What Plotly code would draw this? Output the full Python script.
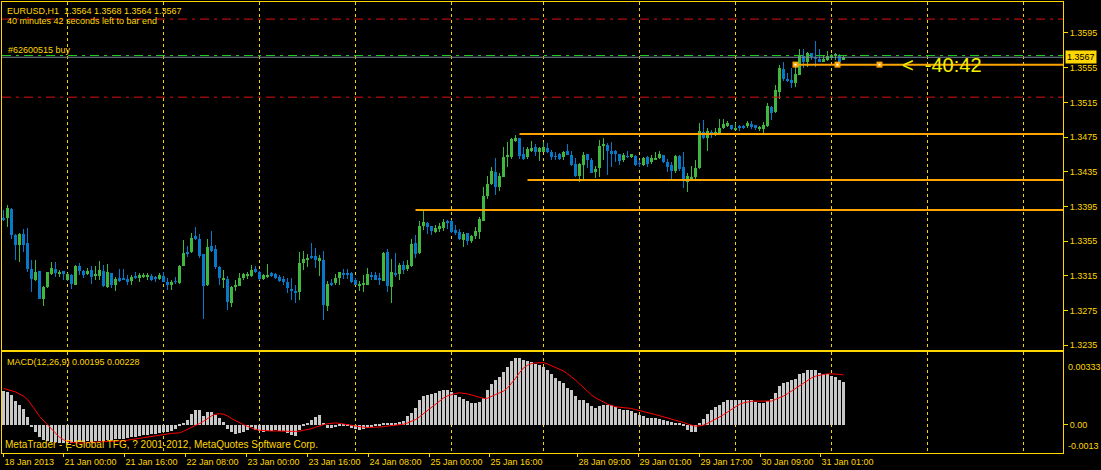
import plotly.graph_objects as go

# EURUSD H1 candles, oldest first
opens = [1.3381, 1.3382, 1.3392, 1.3362, 1.3351, 1.3363, 1.3353, 1.3323, 1.3310, 1.3321,
         1.3288, 1.3302, 1.3317, 1.3323, 1.3318, 1.3321, 1.3310, 1.3316, 1.3305, 1.3326,
         1.3321, 1.3317, 1.3322, 1.3315, 1.3315, 1.3321, 1.3302, 1.3318, 1.3305, 1.3312,
         1.3313, 1.3311, 1.3309, 1.3315, 1.3312, 1.3314, 1.3314, 1.3315, 1.3313, 1.3311,
         1.3315, 1.3308, 1.3304, 1.3309, 1.3307, 1.3326, 1.3342, 1.3343, 1.3361, 1.3358,
         1.3340, 1.3304, 1.3349, 1.3346, 1.3325, 1.3310, 1.3311, 1.3284, 1.3303, 1.3303,
         1.3313, 1.3315, 1.3315, 1.3323, 1.3319, 1.3311, 1.3314, 1.3318, 1.3317, 1.3314,
         1.3311, 1.3308, 1.3300, 1.3297, 1.3296, 1.3330, 1.3333, 1.3337, 1.3338, 1.3333,
         1.3333, 1.3280, 1.3307, 1.3307, 1.3313, 1.3318, 1.3318, 1.3318, 1.3310, 1.3304,
         1.3304, 1.3305, 1.3316, 1.3316, 1.3313, 1.3309, 1.3342, 1.3302, 1.3318, 1.3317,
         1.3327, 1.3323, 1.3326, 1.3353, 1.3341, 1.3373, 1.3376, 1.3373, 1.3366, 1.3370,
         1.3370, 1.3378, 1.3378, 1.3368, 1.3365, 1.3356, 1.3364, 1.3355, 1.3361, 1.3365,
         1.3378, 1.3407, 1.3421, 1.3435, 1.3418, 1.3429, 1.3452, 1.3452, 1.3471, 1.3474,
         1.3456, 1.3452, 1.3459, 1.3463, 1.3458, 1.3458, 1.3462, 1.3458, 1.3453, 1.3455,
         1.3452, 1.3459, 1.3454, 1.3444, 1.3430, 1.3443, 1.3456, 1.3449, 1.3435, 1.3439,
         1.3465, 1.3466, 1.3459, 1.3459, 1.3456, 1.3448, 1.3453, 1.3453, 1.3453, 1.3445,
         1.3443, 1.3452, 1.3446, 1.3449, 1.3451, 1.3454, 1.3446, 1.3443, 1.3436, 1.3453,
         1.3441, 1.3423, 1.3426, 1.3429, 1.3439, 1.3481, 1.3474, 1.3481, 1.3479, 1.3480,
         1.3485, 1.3488, 1.3489, 1.3483, 1.3488, 1.3488, 1.3488, 1.3490, 1.3489, 1.3484,
         1.3484, 1.3488, 1.3510, 1.3504, 1.3527, 1.3554, 1.3542, 1.3541, 1.3537, 1.3547,
         1.3569, 1.3562, 1.3572, 1.3566, 1.3565, 1.3562, 1.3564, 1.3567, 1.3569, 1.3570,
         1.3564]
highs = [1.3391, 1.3397, 1.3393, 1.3363, 1.3364, 1.3369, 1.3370, 1.3333, 1.3333, 1.3321,
         1.3303, 1.3320, 1.3331, 1.3331, 1.3322, 1.3321, 1.3318, 1.3317, 1.3327, 1.3330,
         1.3322, 1.3324, 1.3326, 1.3326, 1.3332, 1.3328, 1.3329, 1.3318, 1.3314, 1.3323,
         1.3323, 1.3316, 1.3316, 1.3319, 1.3318, 1.3318, 1.3318, 1.3317, 1.3315, 1.3318,
         1.3319, 1.3312, 1.3310, 1.3314, 1.3328, 1.3356, 1.3349, 1.3364, 1.3371, 1.3363,
         1.3340, 1.3358, 1.3367, 1.3351, 1.3326, 1.3322, 1.3315, 1.3303, 1.3310, 1.3318,
         1.3318, 1.3319, 1.3327, 1.3326, 1.3321, 1.3317, 1.3329, 1.3320, 1.3318, 1.3316,
         1.3315, 1.3312, 1.3312, 1.3305, 1.3343, 1.3344, 1.3340, 1.3353, 1.3347, 1.3339,
         1.3344, 1.3309, 1.3311, 1.3317, 1.3319, 1.3323, 1.3323, 1.3319, 1.3313, 1.3309,
         1.3316, 1.3324, 1.3320, 1.3320, 1.3318, 1.3342, 1.3346, 1.3334, 1.3341, 1.3330,
         1.3332, 1.3333, 1.3357, 1.3362, 1.3378, 1.3392, 1.3377, 1.3373, 1.3374, 1.3376,
         1.3381, 1.3379, 1.3379, 1.3374, 1.3369, 1.3366, 1.3364, 1.3362, 1.3371, 1.3383,
         1.3418, 1.3430, 1.3441, 1.3451, 1.3433, 1.3464, 1.3469, 1.3474, 1.3477, 1.3474,
         1.3464, 1.3463, 1.3470, 1.3467, 1.3464, 1.3469, 1.3468, 1.3460, 1.3458, 1.3457,
         1.3459, 1.3467, 1.3459, 1.3451, 1.3445, 1.3458, 1.3456, 1.3451, 1.3442, 1.3472,
         1.3474, 1.3468, 1.3469, 1.3460, 1.3456, 1.3457, 1.3459, 1.3456, 1.3454, 1.3449,
         1.3452, 1.3453, 1.3454, 1.3458, 1.3459, 1.3454, 1.3450, 1.3446, 1.3454, 1.3454,
         1.3458, 1.3433, 1.3442, 1.3449, 1.3491, 1.3495, 1.3485, 1.3483, 1.3485, 1.3496,
         1.3496, 1.3493, 1.3489, 1.3491, 1.3489, 1.3489, 1.3493, 1.3494, 1.3489, 1.3488,
         1.3492, 1.3514, 1.3511, 1.3535, 1.3558, 1.3561, 1.3549, 1.3555, 1.3558, 1.3576,
         1.3576, 1.3573, 1.3572, 1.3586, 1.3576, 1.3568, 1.3574, 1.3571, 1.3572, 1.3571,
         1.3568]
lows = [1.3378, 1.3371, 1.3358, 1.3333, 1.3331, 1.3343, 1.3319, 1.3296, 1.3309, 1.3288,
        1.3280, 1.3301, 1.3316, 1.3314, 1.3314, 1.3310, 1.3309, 1.3300, 1.3304, 1.3316,
        1.3313, 1.3316, 1.3306, 1.3310, 1.3310, 1.3302, 1.3301, 1.3301, 1.3298, 1.3308,
        1.3310, 1.3305, 1.3305, 1.3311, 1.3308, 1.3312, 1.3310, 1.3309, 1.3308, 1.3310,
        1.3308, 1.3299, 1.3299, 1.3306, 1.3306, 1.3326, 1.3337, 1.3341, 1.3356, 1.3335,
        1.3265, 1.3303, 1.3343, 1.3323, 1.3304, 1.3301, 1.3276, 1.3279, 1.3297, 1.3303,
        1.3310, 1.3311, 1.3314, 1.3318, 1.3310, 1.3310, 1.3312, 1.3314, 1.3311, 1.3308,
        1.3305, 1.3295, 1.3287, 1.3284, 1.3287, 1.3322, 1.3325, 1.3334, 1.3324, 1.3315,
        1.3264, 1.3275, 1.3303, 1.3305, 1.3305, 1.3311, 1.3311, 1.3307, 1.3304, 1.3297,
        1.3296, 1.3304, 1.3310, 1.3310, 1.3304, 1.3309, 1.3296, 1.3284, 1.3314, 1.3310,
        1.3317, 1.3321, 1.3325, 1.3335, 1.3340, 1.3368, 1.3363, 1.3362, 1.3364, 1.3365,
        1.3367, 1.3369, 1.3364, 1.3362, 1.3356, 1.3348, 1.3351, 1.3353, 1.3357, 1.3357,
        1.3378, 1.3404, 1.3420, 1.3408, 1.3413, 1.3429, 1.3440, 1.3450, 1.3469, 1.3450,
        1.3449, 1.3450, 1.3458, 1.3453, 1.3447, 1.3458, 1.3457, 1.3448, 1.3449, 1.3449,
        1.3449, 1.3454, 1.3442, 1.3429, 1.3423, 1.3425, 1.3439, 1.3433, 1.3428, 1.3429,
        1.3449, 1.3431, 1.3441, 1.3446, 1.3443, 1.3446, 1.3451, 1.3451, 1.3442, 1.3441,
        1.3442, 1.3441, 1.3444, 1.3449, 1.3450, 1.3445, 1.3435, 1.3427, 1.3433, 1.3436,
        1.3416, 1.3412, 1.3424, 1.3424, 1.3438, 1.3473, 1.3459, 1.3474, 1.3476, 1.3479,
        1.3484, 1.3487, 1.3483, 1.3483, 1.3482, 1.3484, 1.3486, 1.3484, 1.3483, 1.3482,
        1.3480, 1.3487, 1.3495, 1.3503, 1.3519, 1.3540, 1.3538, 1.3531, 1.3533, 1.3546,
        1.3555, 1.3556, 1.3564, 1.3556, 1.3561, 1.3561, 1.3563, 1.3564, 1.3564, 1.3561,
        1.3564]
closes = [1.3380, 1.3393, 1.3362, 1.3351, 1.3363, 1.3351, 1.3323, 1.3311, 1.3319, 1.3288,
          1.3302, 1.3320, 1.3324, 1.3318, 1.3320, 1.3317, 1.3317, 1.3306, 1.3326, 1.3321,
          1.3316, 1.3321, 1.3314, 1.3317, 1.3322, 1.3303, 1.3319, 1.3305, 1.3311, 1.3310,
          1.3311, 1.3308, 1.3314, 1.3313, 1.3316, 1.3316, 1.3316, 1.3310, 1.3312, 1.3316,
          1.3308, 1.3305, 1.3308, 1.3308, 1.3326, 1.3341, 1.3341, 1.3359, 1.3358, 1.3338,
          1.3303, 1.3348, 1.3344, 1.3325, 1.3312, 1.3313, 1.3285, 1.3302, 1.3305, 1.3312,
          1.3317, 1.3317, 1.3322, 1.3320, 1.3311, 1.3316, 1.3316, 1.3315, 1.3312, 1.3309,
          1.3308, 1.3301, 1.3297, 1.3296, 1.3330, 1.3334, 1.3336, 1.3336, 1.3333, 1.3335,
          1.3281, 1.3306, 1.3305, 1.3313, 1.3319, 1.3317, 1.3316, 1.3308, 1.3305, 1.3306,
          1.3307, 1.3317, 1.3314, 1.3310, 1.3310, 1.3341, 1.3303, 1.3319, 1.3317, 1.3327,
          1.3322, 1.3327, 1.3352, 1.3340, 1.3373, 1.3377, 1.3371, 1.3367, 1.3370, 1.3372,
          1.3377, 1.3376, 1.3366, 1.3364, 1.3357, 1.3363, 1.3355, 1.3361, 1.3367, 1.3380,
          1.3407, 1.3421, 1.3436, 1.3417, 1.3430, 1.3452, 1.3454, 1.3473, 1.3474, 1.3453,
          1.3450, 1.3461, 1.3462, 1.3458, 1.3462, 1.3463, 1.3458, 1.3452, 1.3452, 1.3450,
          1.3458, 1.3454, 1.3443, 1.3430, 1.3444, 1.3454, 1.3449, 1.3434, 1.3438, 1.3465,
          1.3467, 1.3459, 1.3456, 1.3456, 1.3447, 1.3454, 1.3452, 1.3455, 1.3443, 1.3444,
          1.3451, 1.3444, 1.3451, 1.3451, 1.3455, 1.3446, 1.3441, 1.3436, 1.3453, 1.3438,
          1.3424, 1.3430, 1.3429, 1.3439, 1.3482, 1.3474, 1.3482, 1.3478, 1.3481, 1.3486,
          1.3490, 1.3491, 1.3484, 1.3486, 1.3485, 1.3486, 1.3491, 1.3487, 1.3485, 1.3487,
          1.3489, 1.3511, 1.3503, 1.3529, 1.3555, 1.3542, 1.3540, 1.3537, 1.3548, 1.3569,
          1.3562, 1.3572, 1.3567, 1.3565, 1.3562, 1.3565, 1.3569, 1.3569, 1.3570, 1.3562,
          1.3567]

# MACD(12,26,9): main line (histogram) and signal line
macd_main = [0.00154, 0.00151, 0.00135, 0.00108, 0.00092, 0.00074, 0.00034, -0.00012, -0.00035, -0.00055,
             -0.00070, -0.00075, -0.00078, -0.00080, -0.00082, -0.00082, -0.00083, -0.00084, -0.00080, -0.00079,
             -0.00078, -0.00077, -0.00078, -0.00077, -0.00074, -0.00075, -0.00070, -0.00070, -0.00068, -0.00066,
             -0.00064, -0.00061, -0.00058, -0.00055, -0.00052, -0.00049, -0.00046, -0.00044, -0.00042, -0.00038,
             -0.00034, -0.00033, -0.00030, -0.00021, -0.00008, 0.00003, 0.00023, 0.00049, 0.00069, 0.00069,
             0.00038, 0.00057, 0.00058, 0.00042, 0.00031, 0.00012, -0.00020, -0.00034, -0.00042, -0.00038,
             -0.00034, -0.00023, -0.00012, -0.00023, -0.00028, -0.00034, -0.00031, -0.00028, -0.00023, -0.00028,
             -0.00031, -0.00038, -0.00046, -0.00054, -0.00023, -0.00003, 0.00008, 0.00023, 0.00034, 0.00042,
             0.00003, -0.00015, -0.00015, -0.00012, -0.00008, -0.00005, -0.00008, -0.00015, -0.00018, -0.00023,
             -0.00018, -0.00015, -0.00012, -0.00005, -0.00008, 0.00008, 0.00003, 0.00005, 0.00008, 0.00011,
             0.00018, 0.00038, 0.00054, 0.00077, 0.00115, 0.00131, 0.00138, 0.00141, 0.00146, 0.00154,
             0.00158, 0.00161, 0.00151, 0.00138, 0.00128, 0.00118, 0.00108, 0.00097, 0.00097, 0.00103,
             0.00123, 0.00157, 0.00188, 0.00203, 0.00218, 0.00243, 0.00264, 0.00292, 0.00307, 0.00304,
             0.00295, 0.00292, 0.00289, 0.00277, 0.00272, 0.00264, 0.00249, 0.00234, 0.00215, 0.00200,
             0.00189, 0.00169, 0.00157, 0.00131, 0.00115, 0.00111, 0.00100, 0.00085, 0.00077, 0.00085,
             0.00092, 0.00092, 0.00092, 0.00081, 0.00074, 0.00069, 0.00065, 0.00061, 0.00054, 0.00046,
             0.00038, 0.00031, 0.00031, 0.00031, 0.00028, 0.00023, 0.00015, 0.00011, 0.00008, 0.00003,
             -0.00008, -0.00023, -0.00034, -0.00034, 0.00005, 0.00028, 0.00051, 0.00066, 0.00080, 0.00092,
             0.00105, 0.00115, 0.00115, 0.00115, 0.00115, 0.00115, 0.00115, 0.00111, 0.00103, 0.00100,
             0.00097, 0.00108, 0.00118, 0.00146, 0.00177, 0.00189, 0.00197, 0.00203, 0.00207, 0.00231,
             0.00235, 0.00249, 0.00249, 0.00249, 0.00238, 0.00234, 0.00234, 0.00223, 0.00218, 0.00203,
             0.00195]
macd_signal = [0.00166, 0.00160, 0.00156, 0.00150, 0.00140, 0.00131, 0.00115, 0.00092, 0.00065, 0.00038,
               0.00018, 0.00000, -0.00022, -0.00043, -0.00058, -0.00069, -0.00077, -0.00081, -0.00084, -0.00085,
               -0.00084, -0.00082, -0.00080, -0.00079, -0.00079, -0.00078, -0.00078, -0.00077, -0.00076, -0.00075,
               -0.00074, -0.00072, -0.00069, -0.00066, -0.00063, -0.00060, -0.00057, -0.00054, -0.00050, -0.00046,
               -0.00043, -0.00041, -0.00040, -0.00039, -0.00038, -0.00030, -0.00022, -0.00013, -0.00005, 0.00005,
               0.00015, 0.00028, 0.00040, 0.00048, 0.00050, 0.00048, 0.00040, 0.00028, 0.00018, 0.00008,
               0.00000, -0.00008, -0.00016, -0.00022, -0.00026, -0.00028, -0.00029, -0.00029, -0.00029, -0.00030,
               -0.00030, -0.00031, -0.00031, -0.00031, -0.00030, -0.00027, -0.00023, -0.00018, -0.00012, -0.00005,
               0.00000, 0.00004, 0.00007, 0.00008, 0.00006, 0.00003, 0.00000, -0.00004, -0.00008, -0.00011,
               -0.00012, -0.00013, -0.00013, -0.00012, -0.00011, -0.00009, -0.00007, -0.00006, -0.00004, -0.00003,
               0.00002, 0.00008, 0.00015, 0.00023, 0.00036, 0.00050, 0.00066, 0.00082, 0.00096, 0.00110,
               0.00122, 0.00132, 0.00138, 0.00143, 0.00146, 0.00145, 0.00141, 0.00136, 0.00130, 0.00124,
               0.00120, 0.00121, 0.00128, 0.00138, 0.00146, 0.00154, 0.00168, 0.00188, 0.00212, 0.00238,
               0.00260, 0.00272, 0.00280, 0.00283, 0.00284, 0.00284, 0.00278, 0.00270, 0.00262, 0.00254,
               0.00246, 0.00233, 0.00220, 0.00204, 0.00187, 0.00170, 0.00150, 0.00136, 0.00123, 0.00113,
               0.00102, 0.00094, 0.00088, 0.00082, 0.00080, 0.00079, 0.00078, 0.00074, 0.00069, 0.00065,
               0.00061, 0.00056, 0.00051, 0.00046, 0.00041, 0.00036, 0.00032, 0.00028, 0.00023, 0.00017,
               0.00010, 0.00003, -0.00002, -0.00007, -0.00006, -0.00002, 0.00006, 0.00015, 0.00025, 0.00035,
               0.00046, 0.00058, 0.00070, 0.00084, 0.00093, 0.00100, 0.00104, 0.00107, 0.00108, 0.00108,
               0.00108, 0.00108, 0.00108, 0.00116, 0.00123, 0.00131, 0.00142, 0.00154, 0.00167, 0.00180,
               0.00192, 0.00204, 0.00214, 0.00222, 0.00227, 0.00230, 0.00233, 0.00234, 0.00232, 0.00230,
               0.00228]

price_ticks = [1.3595, 1.3555, 1.3515, 1.3475, 1.3435, 1.3395, 1.3355, 1.3315, 1.3275, 1.3235]
time_tick_pos = [0, 15, 30.25, 45.5, 60.75, 76, 91.25, 106.5, 121.5, 143.5, 158.75, 174, 189.25, 204.25]
time_tick_labels = ["18 Jan 2013", "21 Jan 00:00", "21 Jan 16:00", "22 Jan 08:00", "23 Jan 00:00",
                    "23 Jan 16:00", "24 Jan 08:00", "25 Jan 00:00", "25 Jan 16:00", "28 Jan 09:00",
                    "29 Jan 01:00", "29 Jan 17:00", "30 Jan 09:00", "31 Jan 01:00"]
grid_bars = [16, 40, 64, 88, 112, 135, 159, 183, 207, 231, 255]

order_price = 1.3569
stop_levels = [1.3611, 1.3521]
level_prices = [1.33909, 1.34785, 1.34255, 1.35585]
level_start = [103, 129, 131, 198]
anchor_bars = [198, 208.5, 219]

YEL = "#FFD700"
GRID = "#FFD000"
BULL = "#40B840"
BEAR = "#0879C8"
ORANGE = "#FFA500"
FONT = "Liberation Sans"

X_RANGE = [-0.375, 264.875]
W, H = 1101, 470
L, R, T, B = 2, 38, 2, 17


def px_x(x):
    return (x - L) / (W - L - R)


def px_y(y):
    return (H - B - y) / (H - T - B)


idx = list(range(len(closes)))
cols = [BULL if c > o else BEAR for o, c in zip(opens, closes)]

fig = go.Figure()

# wicks
fig.add_trace(go.Bar(x=idx, y=[h - l for h, l in zip(highs, lows)], base=lows, width=0.25,
                     marker=dict(color=cols, line=dict(width=0)), xaxis="x", yaxis="y"))
# bodies
fig.add_trace(go.Bar(x=idx, y=[max(c - o, o - c, 0.00004) for o, c in zip(opens, closes)],
                     base=[min(o, c) for o, c in zip(opens, closes)], width=0.75,
                     marker=dict(color=cols, line=dict(width=0)), xaxis="x", yaxis="y"))

# horizontal levels (trend lines)
for p, s in zip(level_prices, level_start):
    fig.add_trace(go.Scatter(x=[s, X_RANGE[1]], y=[p, p], mode="lines",
                             line=dict(color=ORANGE, width=2), xaxis="x", yaxis="y"))
fig.add_trace(go.Scatter(x=anchor_bars, y=[level_prices[3]] * 3, mode="markers",
                         marker=dict(symbol="square", size=6, color=ORANGE), xaxis="x", yaxis="y"))
fig.add_trace(go.Scatter(x=anchor_bars, y=[level_prices[3]] * 3, mode="markers",
                         marker=dict(symbol="square", size=2, color="white"), xaxis="x", yaxis="y"))

# MACD
fig.add_trace(go.Bar(x=idx, y=macd_main, width=0.75, marker=dict(color="#C8C8C8", line=dict(width=0)),
                     xaxis="x2", yaxis="y2"))
fig.add_trace(go.Scatter(x=idx, y=macd_signal, mode="lines", line=dict(color="#FF0000", width=1),
                         xaxis="x2", yaxis="y2"))

shapes = []
for p in stop_levels:
    shapes.append(dict(type="line", xref="paper", yref="y", x0=0, x1=1, y0=p, y1=p,
                       line=dict(color="#E01010", width=1, dash="9px,5px,3px,5px")))
shapes.append(dict(type="line", xref="paper", yref="y", x0=0, x1=1, y0=order_price, y1=order_price,
                   line=dict(color="#22CC22", width=1, dash="9px,5px,3px,5px")))
shapes.append(dict(type="line", xref="paper", yref="y", x0=0, x1=1, y0=closes[-1], y1=closes[-1],
                   line=dict(color="#778899", width=1)))


def label(x, y, text, size=9, color=YEL, **kw):
    return dict(xref="paper", yref="paper", x=px_x(x), y=px_y(y), text=text, showarrow=False,
                xanchor="left", yanchor="middle", font=dict(family=FONT, size=size, color=color), **kw)


nb = "\u00a0"
annotations = [
    label(5, 11, f"EURUSD,H1{nb}{nb}{opens[-1]:.4f} {highs[-1]:.4f} {lows[-1]:.4f} {closes[-1]:.4f}"),
    label(5, 21, "40 minutes 42 seconds left to bar end"),
    label(6, 50, "#62600515 buy"),
    label(5, 362, f"MACD(12,26,9) {macd_main[-1]:.5f} {macd_signal[-1]:.5f}"),
    label(3, 444, "MetaTrader - E-Global TFG, ? 2001-2012, MetaQuotes Software Corp.", size=10),
    label(900, 65, f"<{nb}{nb}-40:42", size=20, color="#F0F000"),
    label(1066, 367, "0.00333"),
    label(1066, 446, "-0.0013"),
    dict(xref="paper", yref="y", x=1, y=closes[-1], xanchor="left", yanchor="middle", xshift=2,
         text=f"{closes[-1]:.4f}", showarrow=False, bgcolor=YEL, borderpad=1,
         font=dict(family=FONT, size=9, color="black")),
]

axis_common = dict(showline=True, mirror=True, linecolor=YEL, linewidth=1, zeroline=False,
                   automargin=False, tickangle=0,
                   tickcolor=YEL, tickfont=dict(family=FONT, size=9, color=YEL))
day_grid = dict(tickmode="array", tickvals=grid_bars, showgrid=True, gridcolor=GRID, gridwidth=1,
                griddash="3px,3px", ticks="")

fig.update_layout(
    width=W, height=H, margin=dict(l=L, r=R, t=T, b=B, autoexpand=False),
    paper_bgcolor="black", plot_bgcolor="black",
    showlegend=False, barmode="overlay", bargap=0,
    xaxis=dict(domain=[0, 1], anchor="y", range=X_RANGE, showticklabels=False,
               gridcolor=GRID, griddash="3px,3px", showgrid=True, tickmode="array", tickvals=grid_bars,
               ticks="", **axis_common),
    yaxis=dict(domain=[px_y(350), 1], anchor="x", side="right", range=[1.32295, 1.36307],
               tickmode="array", tickvals=price_ticks, ticktext=[f"{v:.4f}" for v in price_ticks],
               ticks="outside", ticklen=4, showgrid=False, **axis_common),
    xaxis2=dict(domain=[0, 1], anchor="y2", range=X_RANGE, tickmode="array", tickvals=time_tick_pos,
                ticktext=time_tick_labels, ticks="outside", ticklen=3, ticklabelposition="outside right",
                showgrid=False, minor=day_grid, **axis_common),
    yaxis2=dict(domain=[0, px_y(352)], anchor="x2", side="right", range=[-0.0013, 0.00333],
                tickmode="array", tickvals=[0], ticktext=["0.00"], ticks="outside", ticklen=4,
                showgrid=False, **axis_common),
    shapes=shapes, annotations=annotations,
)

# page body has a default margin; drop it so the figure sits at the window origin
fig.write_html("out.html", config={"displayModeBar": False},
               post_script="document.body.style.margin='0';document.body.style.overflow='hidden';")
